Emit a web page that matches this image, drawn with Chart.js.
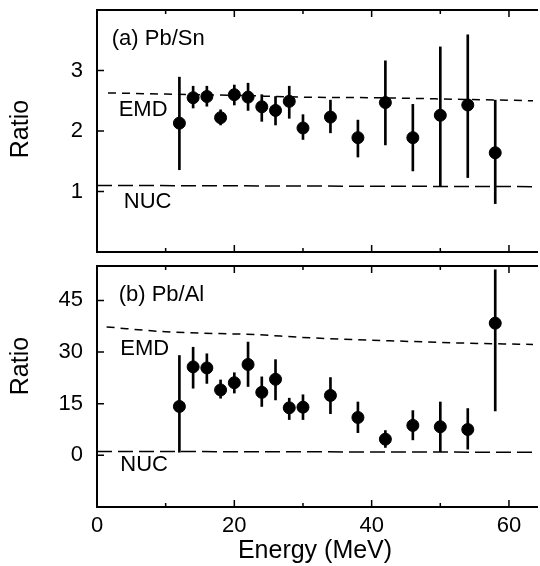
<!DOCTYPE html>
<html><head><meta charset="utf-8">
<script src="https://cdn.jsdelivr.net/npm/chart.js@4.4.0/dist/chart.umd.min.js"></script>
<style>
html,body{margin:0;padding:0;background:#fff;}
#wrap{position:relative;width:540px;height:566px;overflow:hidden;}
.box{position:absolute;left:0;width:540px;}
</style></head><body>
<div id="wrap">
  <div class="box" style="top:0;height:259px"><canvas id="c1"></canvas></div>
  <div class="box" style="top:259px;height:307px"><canvas id="c2"></canvas></div>
</div>
<script>
// ---------- data ----------
const energy = [12,14,16,18,20,22,24,26,28,30,34,38,42,46,50,54,58];

const pbSnRatio = [2.13,2.55,2.57,2.22,2.60,2.56,2.40,2.34,2.49,2.05,2.23,1.89,2.47,1.89,2.26,2.43,1.64];
const pbSnLow   = [1.36,2.38,2.41,2.10,2.43,2.34,2.16,2.10,2.21,1.86,1.97,1.57,1.77,1.34,1.08,1.23,0.80];
const pbSnHigh  = [2.89,2.74,2.74,2.35,2.76,2.79,2.60,2.57,2.74,2.27,2.51,2.18,3.16,2.44,3.39,3.59,2.51];

const pbAlRatio = [14.2,25.7,25.4,19.0,21.1,26.4,18.3,22.1,13.8,14.0,17.4,11.0,4.7,8.7,8.3,7.5,38.4];
const pbAlLow   = [0.9,19.5,20.9,16.6,18.1,20.0,14.2,16.1,10.4,10.4,12.1,6.6,2.3,4.5,1.1,1.8,12.9];
const pbAlHigh  = [29.0,31.4,29.5,21.9,24.0,32.9,22.8,27.8,16.6,17.6,22.6,15.5,7.2,13.0,15.5,13.6,53.9];

const emdSnE = [1.6,10,20,30,40,50,63.5];
const emdSnV = [2.63,2.61,2.59,2.56,2.55,2.53,2.50];
const emdAlE = [1.4,10,23.8,29.5,43.9,53.5,63.5];
const emdAlV = [37.3,35.9,35.0,34.3,33.2,32.6,32.2];

const nucE = [0,63.5];
const nucSnV = [1.1,1.08];
const nucAlV = [1.15,0.9];

const xMajorTicks = [0,20,40,60];
const xMinorTicks = [10,30,50];
const snYTicks = [1,2,3];
const alYTicks = [0,15,30,45];

const X_MIN = 0, X_MAX = 63.5;
const FONT = '"Liberation Sans", Arial, Helvetica, sans-serif';

// ---------- helpers ----------
const pts = (xs, ys) => xs.map((x,i)=>({x, y: ys[i]}));
const bars = (xs, lo, hi) => xs.map((x,i)=>({x, y:[lo[i], hi[i]]}));

const framePlugin = {
  id: 'frame',
  afterDatasetsDraw(chart, args, opts) {
    const {ctx, chartArea: a, scales: {x, y}} = chart;
    ctx.save();
    ctx.strokeStyle = '#000';
    ctx.lineWidth = 2;
    ctx.beginPath();
    ctx.moveTo(a.right + 5, a.top); ctx.lineTo(a.left, a.top);
    ctx.lineTo(a.left, a.bottom); ctx.lineTo(a.right + 5, a.bottom);
    ctx.stroke();
    ctx.lineWidth = 1.5;
    ctx.beginPath();
    opts.yTicks.forEach(v => {
      const py = y.getPixelForValue(v);
      ctx.moveTo(a.left, py); ctx.lineTo(a.left + 7, py);
    });
    xMajorTicks.forEach(v => {
      const px = x.getPixelForValue(v);
      ctx.moveTo(px, a.top); ctx.lineTo(px, a.top + 7);
      ctx.moveTo(px, a.bottom); ctx.lineTo(px, a.bottom - 7);
    });
    xMinorTicks.forEach(v => {
      const px = x.getPixelForValue(v);
      ctx.moveTo(px, a.top); ctx.lineTo(px, a.top + 4);
      ctx.moveTo(px, a.bottom); ctx.lineTo(px, a.bottom - 4);
    });
    ctx.stroke();
    ctx.fillStyle = '#000';
    ctx.font = '22px ' + FONT;
    ctx.textAlign = 'left';
    ctx.textBaseline = 'middle';
    opts.labels.forEach(l => {
      ctx.fillText(l.text, x.getPixelForValue(l.x), y.getPixelForValue(l.y));
    });
    ctx.font = '25px ' + FONT;
    ctx.textAlign = 'center';
    ctx.translate(opts.titleX, opts.titleY);
    ctx.rotate(-Math.PI / 2);
    ctx.fillText('Ratio', 0, 0);
    ctx.restore();
  }
};

function makeChart(id, cfg) {
  const showX = cfg.showX;
  return new Chart(document.getElementById(id), {
    type: 'scatter',
    data: {
      datasets: [
        { type: 'line', data: pts(cfg.emdE, cfg.emdV), borderColor: '#000', borderWidth: 1.5,
          borderDash: [8, 6], pointRadius: 0, tension: 0.4, cubicInterpolationMode: 'monotone', fill: false },
        { type: 'line', data: pts(nucE, cfg.nucV), borderColor: '#000', borderWidth: 1.5,
          borderDash: [15, 6], pointRadius: 0, tension: 0, fill: false },
        { type: 'bar', data: bars(energy, cfg.lo, cfg.hi), backgroundColor: '#000',
          barThickness: 2, grouped: false, borderWidth: 0 },
        { type: 'scatter', data: pts(energy, cfg.ratio), backgroundColor: '#000',
          borderColor: '#000', pointRadius: 6, pointHoverRadius: 6 }
      ]
    },
    options: {
      responsive: true, maintainAspectRatio: false, animation: false,
      devicePixelRatio: 1,
      layout: { padding: cfg.padding },
      plugins: { legend: { display: false }, tooltip: { enabled: false },
        frame: { yTicks: cfg.yTicks, labels: cfg.labels, titleX: cfg.titleX, titleY: cfg.titleY } },
      scales: {
        x: {
          type: 'linear', min: X_MIN, max: X_MAX, offset: false,
          display: showX,
          grid: { display: false, drawTicks: false },
          border: { display: false },
          afterBuildTicks: s => { s.ticks = xMajorTicks.map(v => ({value: v})); },
          afterFit: s => {
            s.height = showX ? 59 : 0;
            s.paddingLeft = 0; s.paddingRight = 0;
          },
          ticks: { color: '#000', font: { family: FONT, size: 22 }, padding: 6, maxRotation: 0 },
          title: { display: showX, text: 'Energy (MeV)', color: '#000',
                   font: { family: FONT, size: 25 }, padding: { top: 0, bottom: 0 } }
        },
        y: {
          type: 'linear', min: cfg.yMin, max: cfg.yMax,
          grid: { display: false, drawTicks: false },
          border: { display: false },
          afterBuildTicks: s => { s.ticks = cfg.yTicks.map(v => ({value: v})); },
          afterFit: s => { s.width = 97; s.paddingTop = 0; s.paddingBottom = 0; },
          ticks: { color: '#000', font: { family: FONT, size: 22 }, padding: 14 }
        }
      }
    },
    plugins: [framePlugin]
  });
}

makeChart('c1', {
  showX: false, emdE: emdSnE, emdV: emdSnV, nucV: nucSnV,
  lo: pbSnLow, hi: pbSnHigh, ratio: pbSnRatio,
  yMin: 0, yMax: 4, yTicks: snYTicks,
  padding: { top: 10, bottom: 4, left: 0, right: 0 },
  titleX: 21, titleY: 129,
  labels: [
    { text: '(a) Pb/Sn', x: 2.15, y: 3.52 },
    { text: 'EMD', x: 3.15, y: 2.34 },
    { text: 'NUC', x: 3.9, y: 0.83 }
  ]
});

makeChart('c2', {
  showX: true, emdE: emdAlE, emdV: emdAlV, nucV: nucAlV,
  lo: pbAlLow, hi: pbAlHigh, ratio: pbAlRatio,
  yMin: -15, yMax: 55, yTicks: alYTicks,
  padding: { top: 4, bottom: 0, left: 0, right: 0 },
  titleX: 21, titleY: 107,
  labels: [
    { text: '(b) Pb/Al', x: 3.15, y: 46.7 },
    { text: 'EMD', x: 3.4, y: 30.8 },
    { text: 'NUC', x: 3.4, y: -2.7 }
  ]
});
</script>
</body></html>
